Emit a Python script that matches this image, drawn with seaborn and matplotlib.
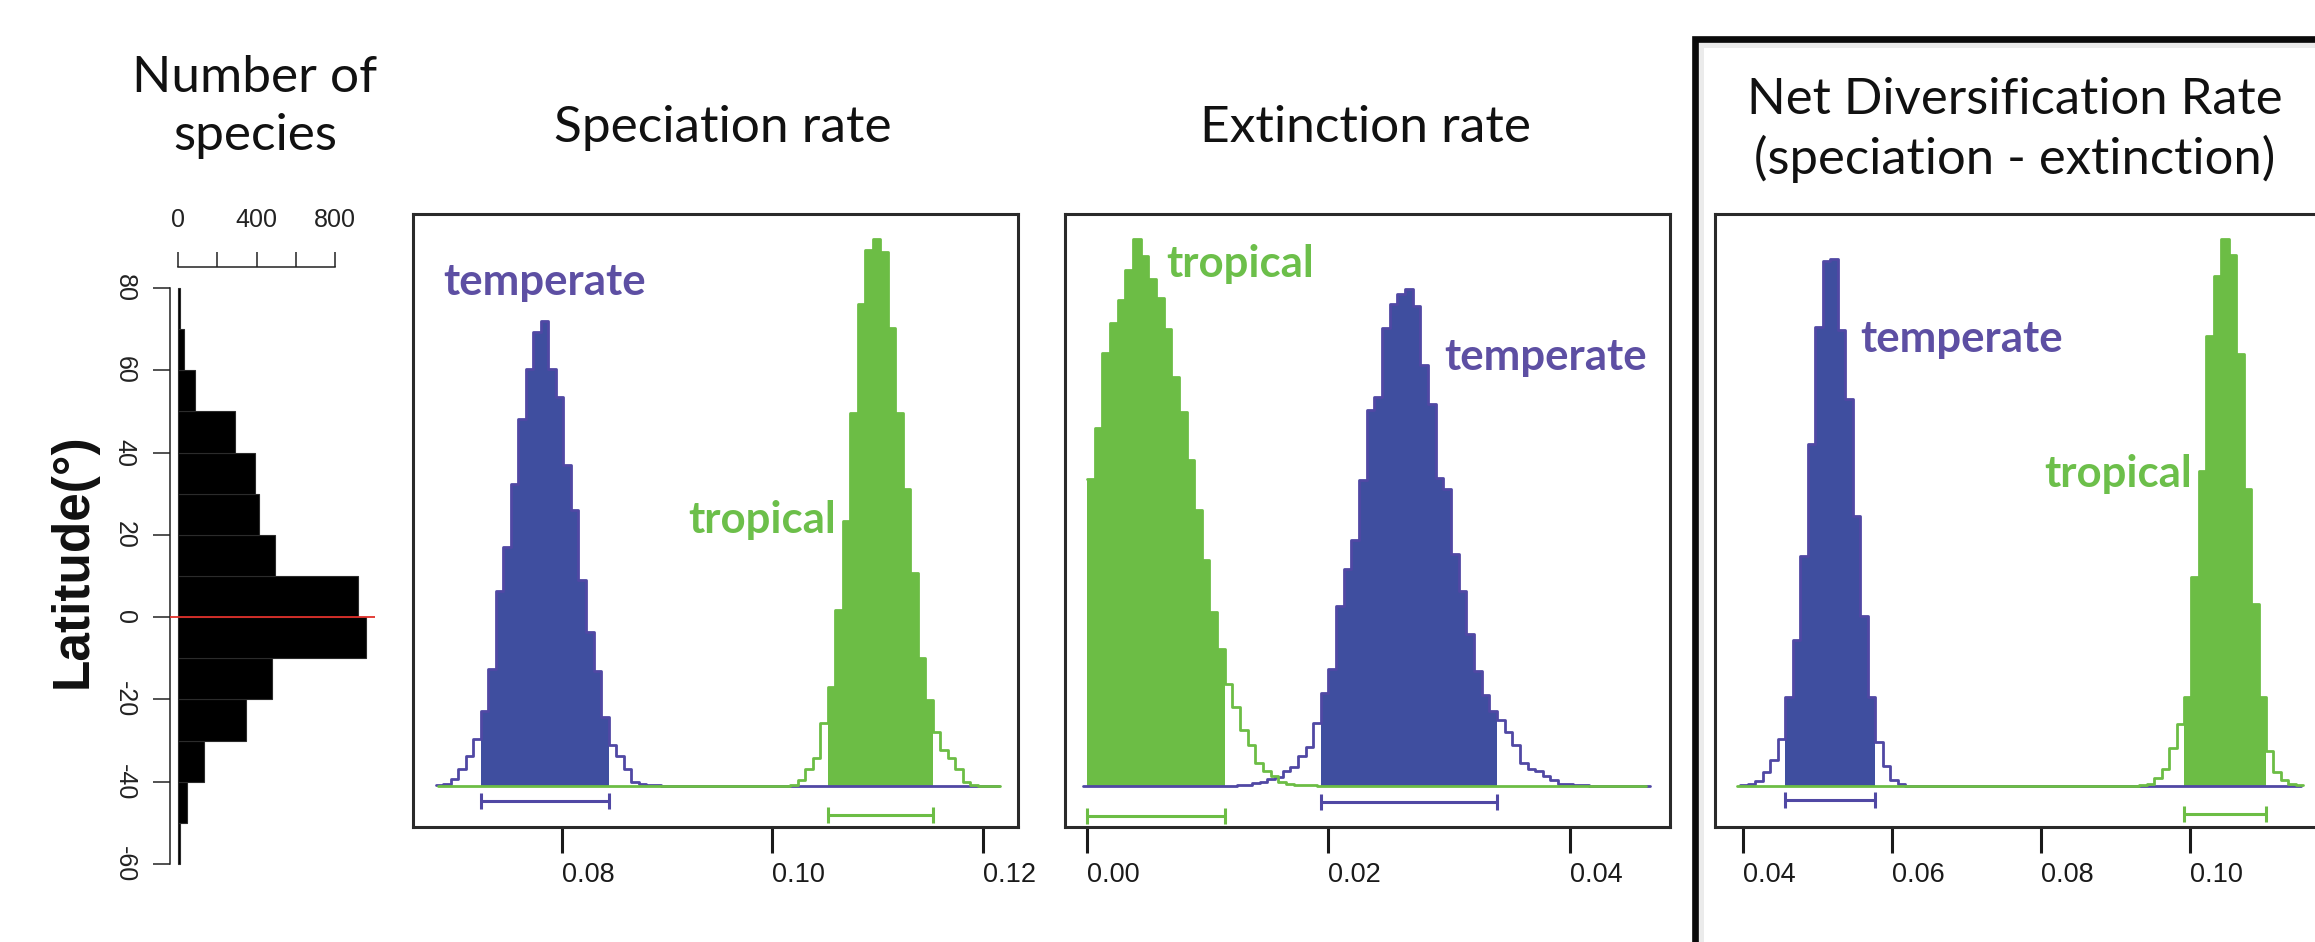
import numpy as np
import pandas as pd
import matplotlib
matplotlib.use("Agg")
import matplotlib.pyplot as plt
from matplotlib.patches import Rectangle
import seaborn as sns

sns.set_theme(style="white")
plt.rcParams["font.family"] = ["Liberation Sans", "DejaVu Sans"]

W, H = 2315, 942
BLUE_FILL = "#3f4e9f"
BLUE_LINE = "#5048a4"
GREEN = "#6cbd45"
TEMP_TXT = "#5d4fa3"
TROP_TXT = "#6cbf4a"
TITLE_FONT = ["Lato", "DejaVu Sans"]

# number of species per 10-degree latitude band (edges from north to south)
lat_edges = [80, 70, 60, 50, 40, 30, 20, 10, 0, -10, -20, -30, -40, -50, -60]
species_counts = [8, 30, 88, 292, 390, 414, 495, 919, 958, 478, 347, 134, 46, 12]
lat_ticks = [80, 60, 40, 20, 0, -20, -40, -60]
count_ticks = [0, 200, 400, 600, 800]
count_labels = ["0", "", "400", "", "800"]

# posterior histograms: left edge of first bin, bin width, bin heights,
# bins inside the 95% interval (start, stop)
spec_range = (0.0680, 0.1214)
spec_temp_start, spec_temp_width = 0.0680, 0.000714
spec_temp_heights = [1, 2, 7, 17, 30, 47, 75, 117, 195, 239, 302, 367, 417, 454, 465,
                     417, 389, 321, 276, 206, 154, 115, 69, 41, 30, 17, 4, 2, 1, 1]
spec_temp_ci = (6, 23)
spec_trop_start, spec_trop_width = 0.10169, 0.000712
spec_trop_heights = [1, 6, 17, 28, 63, 99, 176, 265, 373, 482, 536, 547, 534, 458, 373,
                     297, 213, 128, 86, 54, 36, 28, 17, 4, 1]
spec_trop_ci = (5, 19)
spec_ticks = [0.08, 0.10, 0.12]

ext_range = (0.0, 0.0465)
ext_trop_start, ext_trop_width = 0.0, 0.000634
ext_trop_heights = [307, 358, 433, 463, 486, 516, 547, 530, 507, 488, 457, 409, 374, 326,
                    276, 226, 174, 137, 102, 79, 56, 41, 23, 15, 10, 4, 2, 1, 1, 1]
ext_trop_ci = (0, 18)
ext_temp_start, ext_temp_width = 0.01239, 0.000634
ext_temp_heights = [1, 1, 3, 4, 7, 9, 15, 19, 30, 39, 63, 93, 117, 180, 217, 246, 306, 376,
                    389, 458, 482, 492, 497, 480, 421, 382, 308, 297, 232, 195, 152, 115,
                    91, 75, 66, 54, 41, 23, 17, 15, 10, 6, 2, 2, 1, 1]
ext_temp_ci = (11, 34)
ext_ticks = [0.00, 0.02, 0.04]

net_range = (0.0392, 0.1147)
net_temp_start, net_temp_width = 0.03966, 0.001004
net_temp_heights = [1, 2, 5, 14, 26, 47, 89, 146, 230, 342, 459, 525, 527, 456, 387, 270,
                    170, 89, 44, 20, 6, 2]
net_temp_ci = (6, 18)
net_trop_start, net_trop_width = 0.0932, 0.001
net_trop_heights = [1, 2, 8, 17, 38, 62, 89, 209, 315, 450, 510, 547, 531, 432, 297, 182,
                    89, 35, 14, 6, 2, 1]
net_trop_ci = (6, 17)
net_ticks = [0.04, 0.06, 0.08, 0.10]


def fig_box(left, top, right, bottom):
    return [left / W, 1 - bottom / H, (right - left) / W, (bottom - top) / H]


def draw_post(ax, start, width, heights, ci, rng, fill_col, line_col, ci_y):
    heights = np.asarray(heights, float)
    n = len(heights)
    edges = start + width * np.arange(n + 1)
    centers = edges[:-1] + width / 2
    n_left = max(int(round((start - rng[0]) / width)), 0)
    n_right = max(int(round((rng[1] - edges[-1]) / width)), 0)
    full_edges = start + width * np.arange(-n_left, n + n_right + 1)
    lo, hi = ci
    df = pd.DataFrame({"rate": centers, "n": heights})
    sns.histplot(data=df.iloc[lo:hi], x="rate", weights="n",
                 bins=list(edges[lo:hi + 1]), element="step", fill=True, alpha=1,
                 color=fill_col, linewidth=0, ax=ax, zorder=2)
    sns.histplot(data=df, x="rate", weights="n", bins=list(full_edges), element="step",
                 fill=False, color=line_col, linewidth=2.0, ax=ax, zorder=3)
    ax.errorbar((edges[lo] + edges[hi]) / 2, ci_y, xerr=(edges[hi] - edges[lo]) / 2,
                fmt="none", ecolor=line_col, elinewidth=2.2, capsize=5.5, capthick=2.2,
                zorder=3)


def style_panel(ax, xlim, ticks):
    ax.set_xlim(*xlim)
    ax.set_ylim(-41, 572)
    ax.set_xlabel("")
    ax.set_ylabel("")
    ax.set_yticks([])
    ax.set_xticks(ticks)
    ax.set_xticklabels([f"{t:.2f}" for t in ticks], ha="left")
    ax.tick_params(axis="x", bottom=True, direction="out", length=18.5, width=2.2,
                   pad=7, labelsize=19.5, colors="#1a1a1a")
    for s in ax.spines.values():
        s.set_visible(True)
        s.set_color("#2a2a2a")
        s.set_linewidth(2.2)


def label(ax, x, y, text, color):
    ax.text(x, y, text, color=color, fontsize=31.5, fontweight="bold",
            family=TITLE_FONT, va="center")


fig = plt.figure(figsize=(W / 100, H / 100), dpi=100)
fig.patch.set_facecolor("white")

# ---- species per latitude
ax_h = fig.add_axes(fig_box(170, 267, 375, 885))
lat_centers = [(a + b) / 2 for a, b in zip(lat_edges[:-1], lat_edges[1:])]
lat_df = pd.DataFrame({"lat": lat_centers, "n": species_counts})
sns.histplot(data=lat_df, y="lat", weights="n", bins=sorted(lat_edges), color="black",
             edgecolor="#2b2b2b", linewidth=0.8, alpha=1, ax=ax_h)
ax_h.axhline(0, color="#e0302a", lw=1.3, zorder=5)
ax_h.set_xlim(-41, 1004)
ax_h.set_ylim(-65.1, 85.1)
ax_h.set_xlabel("")
ax_h.set_ylabel("")
ax_h.xaxis.tick_top()
ax_h.set_xticks(count_ticks)
ax_h.set_xticklabels(count_labels)
ax_h.set_yticks(lat_ticks)
ax_h.set_yticklabels([str(t) for t in lat_ticks], rotation=270, va="center")
ax_h.tick_params(axis="x", top=True, bottom=False, direction="out", length=11, width=1.1,
                 pad=14, labelsize=18, colors="#222222")
ax_h.tick_params(axis="y", left=True, direction="out", length=12, width=1.1,
                 pad=12, labelsize=18, colors="#222222")
for k in ["right", "bottom"]:
    ax_h.spines[k].set_visible(False)
ax_h.spines["left"].set_bounds(-60, 80)
ax_h.spines["top"].set_bounds(0, 800)
for k in ["left", "top"]:
    ax_h.spines[k].set_color("#222222")
    ax_h.spines[k].set_linewidth(1.1)

fig.text(255 / W, 1 - 107 / H, "Number of\nspecies", ha="center", va="center",
         fontsize=37, family=TITLE_FONT, linespacing=1.3, color="#111111")
fig.text(73 / W, 1 - 561 / H, "Latitude(°)", rotation=90, ha="center", va="center",
         fontsize=37, fontweight="bold", color="#111111")

# ---- speciation
ax1 = fig.add_axes(fig_box(413, 214, 1018, 827))
draw_post(ax1, spec_temp_start, spec_temp_width, spec_temp_heights, spec_temp_ci,
          spec_range, BLUE_FILL, BLUE_LINE, -15)
draw_post(ax1, spec_trop_start, spec_trop_width, spec_trop_heights, spec_trop_ci,
          spec_range, GREEN, GREEN, -29)
style_panel(ax1, (0.06584, 0.12333), spec_ticks)
label(ax1, 0.0687, 504, "temperate", TEMP_TXT)
label(ax1, 0.0920, 266, "tropical", TROP_TXT)
fig.text(723 / W, 1 - 128 / H, "Speciation rate", ha="center", va="center",
         fontsize=37, family=TITLE_FONT, color="#111111")

# ---- extinction
ax2 = fig.add_axes(fig_box(1065, 214, 1670, 827))
draw_post(ax2, ext_temp_start, ext_temp_width, ext_temp_heights, ext_temp_ci,
          ext_range, BLUE_FILL, BLUE_LINE, -16)
draw_post(ax2, ext_trop_start, ext_trop_width, ext_trop_heights, ext_trop_ci,
          ext_range, GREEN, GREEN, -30)
style_panel(ax2, (-0.00182, 0.04828), ext_ticks)
label(ax2, 0.00654, 522, "tropical", TROP_TXT)
label(ax2, 0.02957, 429, "temperate", TEMP_TXT)
fig.text(1366 / W, 1 - 128 / H, "Extinction rate", ha="center", va="center",
         fontsize=37, family=TITLE_FONT, color="#111111")

# ---- net diversification
ax3 = fig.add_axes(fig_box(1715, 214, 2322, 827))
draw_post(ax3, net_temp_start, net_temp_width, net_temp_heights, net_temp_ci,
          net_range, BLUE_FILL, BLUE_LINE, -14)
draw_post(ax3, net_trop_start, net_trop_width, net_trop_heights, net_trop_ci,
          net_range, GREEN, GREEN, -28)
style_panel(ax3, (0.03624, 0.11772), net_ticks)
label(ax3, 0.0557, 447, "temperate", TEMP_TXT)
label(ax3, 0.0805, 312, "tropical", TROP_TXT)
fig.text(2015 / W, 1 - 130 / H, "Net Diversification Rate\n(speciation - extinction)",
         ha="center", va="center", fontsize=36.5, family=TITLE_FONT, linespacing=1.3,
         color="#111111")

# thick frame (with soft shadow) around the net diversification panel
fig.patches.append(Rectangle((1700 / W, -0.05), 0.5, 1 - 44 / H + 0.05,
                             transform=fig.transFigure, fill=False, lw=5,
                             edgecolor="#ebebeb", zorder=9))
fig.patches.append(Rectangle((1695 / W, -0.05), 0.5, 1 - 39 / H + 0.05,
                             transform=fig.transFigure, fill=False, lw=4.8,
                             edgecolor="#0a0a0a", zorder=10))

fig.savefig("out.png", dpi=100, facecolor="white")
